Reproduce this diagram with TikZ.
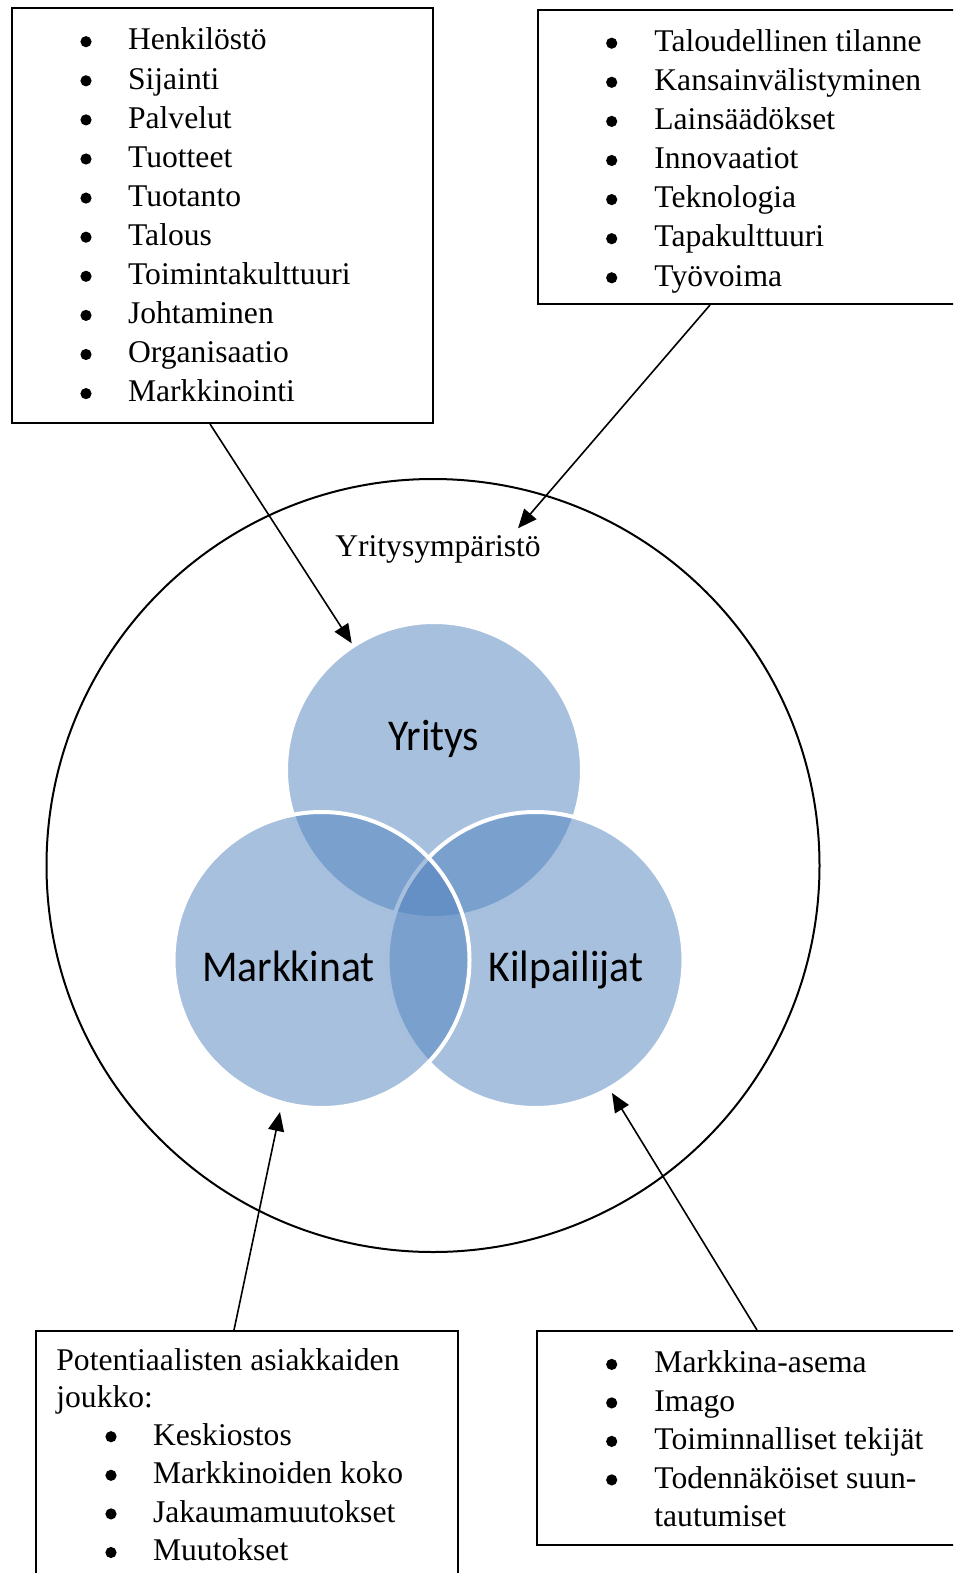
\documentclass[tikz,border=0pt]{standalone}
\usepackage{fontspec}
\setmainfont{Liberation Serif}
\newfontfamily\vennfont[FakeStretch=0.945]{Carlito}
\usetikzlibrary{arrows.meta}
\definecolor{vennblue}{HTML}{4F81BD}
\begin{document}
\begin{tikzpicture}[x=0.5pt,y=-0.5pt,
  box/.style={draw, line width=1pt, anchor=north west, inner sep=0},
  txt/.style={anchor=base west, inner sep=0, font=\fontsize{15.8}{19}\selectfont},
  dot/.style={circle, fill=black, inner sep=0, minimum size=5.6pt},
  venn/.style={circle, fill=vennblue, fill opacity=0.5, draw=white, draw opacity=1,
               line width=2pt, minimum size=148pt, inner sep=0},
  vlabel/.style={anchor=base, inner sep=0, font=\vennfont\fontsize{22}{26}\selectfont},
  arr/.style={-{Triangle[length=9.5pt,width=8pt]}, line width=0.8pt},
]
\clip (0,0) rectangle (953,1573);

% business environment
\node[draw, circle, line width=1pt, minimum size=386.5pt, inner sep=0] (env) at (433,865.5) {};
\node[anchor=base, inner sep=0, font=\fontsize{15.8}{19}\selectfont] (envlabel) at (438,556.7) {Yritysympäristö};

% Venn circles
\node[venn] (yritys) at (434,770) {};
\node[venn] (kilp) at (535.5,960) {};
\node[venn] (mark) at (321.5,960) {};
\node[vlabel] (lyritys) at (433.7,750) {Yritys};
\node[vlabel] (lmark) at (288.4,981) {Markkinat};
\node[vlabel] (lkilp) at (565.8,981) {Kilpailijat};

% factor boxes
\node[box, minimum width=210.5pt, minimum height=207.5pt] (tlbox) at (11,7) {};
\node[box, minimum width=214pt, minimum height=147pt] (trbox) at (537,9) {};
\node[box, minimum width=211pt, minimum height=130pt] (blbox) at (35,1330) {};
\node[box, minimum width=214.5pt, minimum height=107pt] (brbox) at (536,1330) {};

% internal factors
\foreach \t [count=\i] in {Henkilöstö, Sijainti, Palvelut, Tuotteet, Tuotanto, Talous,
  Toimintakulttuuri, Johtaminen, Organisaatio, Markkinointi} {
  \node[dot] (tlb\i) at (86,{41.7+39.1*(\i-1)}) {};
  \node[txt] (tl\i) at (127.7,{50+39.1*(\i-1)}) {\t};
}

% external factors
\foreach \t [count=\i] in {Taloudellinen tilanne, Kansainvälistyminen, Lainsäädökset,
  Innovaatiot, Teknologia, Tapakulttuuri, Työvoima} {
  \node[dot] (trb\i) at (611.7,{43.2+39.1*(\i-1)}) {};
  \node[txt] (tr\i) at (654,{51.5+39.1*(\i-1)}) {\t};
}

% market factors
\node[txt] (blh1) at (56,1370) {Potentiaalisten asiakkaiden};
\node[txt] (blh2) at (56,1407) {joukko:};
\foreach \t [count=\i] in {Keskiostos, Markkinoiden koko, Jakaumamuutokset, Muutokset} {
  \node[dot] (blb\i) at (111,{1436.7+38.6*(\i-1)}) {};
  \node[txt] (bl\i) at (152.7,{1445+38.6*(\i-1)}) {\t};
}

% competitor factors
\foreach \t [count=\i] in {Markkina-asema, Imago, Toiminnalliset tekijät, Todennäköiset suun-} {
  \node[dot] (brb\i) at (611.7,{1364.4+38.5*(\i-1)}) {};
  \node[txt] (br\i) at (654,{1372.7+38.5*(\i-1)}) {\t};
}
\node[txt] (br5) at (654,1526.7) {tautumiset};

% arrow tips
\coordinate (tip1) at (351.7,643.3);
\coordinate (tip2) at (518,528.3);
\coordinate (tip3) at (280,1112);
\coordinate (tip4) at (612,1093);

\draw[arr] ([xshift=99.5pt]tlbox.south west) -- (tip1);
\draw[arr] ([xshift=86.5pt]trbox.south west) -- (tip2);
\draw[arr] ([xshift=99.5pt]blbox.north west) -- (tip3);
\draw[arr] ([xshift=110.5pt]brbox.north west) -- (tip4);
\end{tikzpicture}
\end{document}
